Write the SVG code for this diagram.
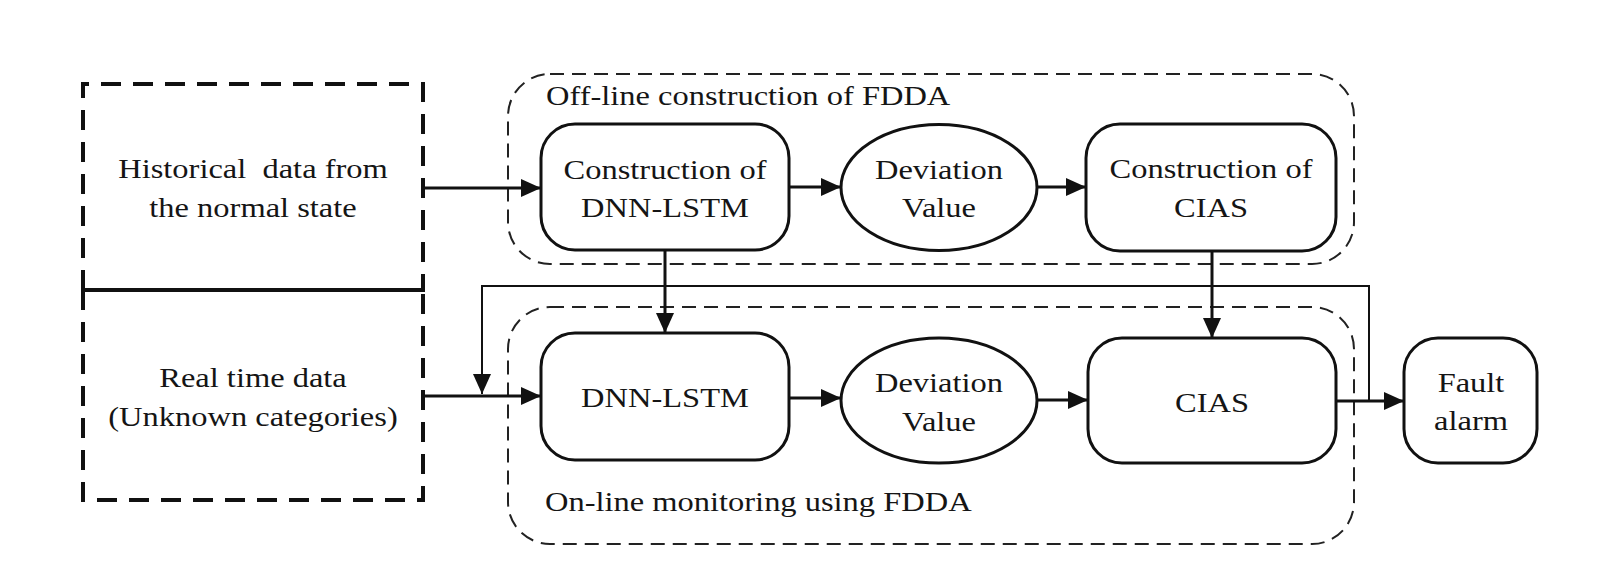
<svg xmlns="http://www.w3.org/2000/svg" width="1599" height="578" viewBox="0 0 1599 578">
<style>
.lbl{font-family:"Liberation Serif","Times New Roman",serif;font-size:28px;fill:#151515;}
.mid{text-anchor:middle;}
.node{fill:#fff;stroke:#111;stroke-width:3;}
.grp{fill:none;stroke:#222;stroke-width:2;stroke-dasharray:14 8;}
.src{fill:none;stroke:#111;stroke-width:4;stroke-dasharray:20 12;}
.con{fill:none;stroke:#111;stroke-width:3;}
.fb{fill:none;stroke:#111;stroke-width:2;}
</style>
<defs>
<marker id="ah" markerUnits="userSpaceOnUse" markerWidth="22" markerHeight="20" refX="20" refY="9" orient="auto">
<path d="M0,0 L20,9 L0,18 Z" fill="#111"/>
</marker>
</defs>
<rect width="1599" height="578" fill="#fff"/>

<g id="offline-group">
<rect class="grp" x="508" y="74" width="846" height="190" rx="42"/>
<text class="lbl" transform="translate(546,105) scale(1.16,1)">Off-line construction of FDDA</text>
</g>
<g id="online-group">
<rect class="grp" x="508" y="307" width="846" height="237" rx="42"/>
<text class="lbl" transform="translate(545,511) scale(1.16,1)">On-line monitoring using FDDA</text>
</g>

<g id="historical">
<path class="src" d="M83,290 V84 H423 V290"/>
<line x1="81" y1="290" x2="425" y2="290" stroke="#111" stroke-width="4"/>
<text class="lbl mid" style="white-space:pre" transform="translate(253,178) scale(1.16,1)">Historical  data from</text>
<text class="lbl mid" transform="translate(253,217) scale(1.16,1)">the normal state</text>
</g>
<g id="realtime">
<path class="src" d="M83,290 V500 H423 V290"/>
<text class="lbl mid" transform="translate(253,387) scale(1.16,1)">Real time data</text>
<text class="lbl mid" transform="translate(253,426) scale(1.16,1)">(Unknown categories)</text>
</g>

<g id="connectors">
<path class="con" d="M423,188 H541" marker-end="url(#ah)"/>
<path class="con" d="M789,187 H841" marker-end="url(#ah)"/>
<path class="con" d="M1037,187 H1086" marker-end="url(#ah)"/>
<path class="con" d="M665,250 V333" marker-end="url(#ah)"/>
<path class="con" d="M1212,251 V338" marker-end="url(#ah)"/>
<path class="con" d="M423,396 H541" marker-end="url(#ah)"/>
<path class="con" d="M789,398 H841" marker-end="url(#ah)"/>
<path class="con" d="M1037,400 H1088" marker-end="url(#ah)"/>
<path class="con" d="M1336,401 H1404" marker-end="url(#ah)"/>
<path class="fb" d="M1369,401 V286 H482 V394" marker-end="url(#ah)"/>
</g>

<g id="construct-dnn">
<rect class="node" x="541" y="124" width="248" height="126" rx="34"/>
<text class="lbl mid" transform="translate(665,179) scale(1.16,1)">Construction of</text>
<text class="lbl mid" transform="translate(665,217) scale(1.16,1)">DNN-LSTM</text>
</g>
<g id="deviation-offline">
<ellipse class="node" cx="939" cy="187.5" rx="98" ry="63"/>
<text class="lbl mid" transform="translate(939,179) scale(1.16,1)">Deviation</text>
<text class="lbl mid" transform="translate(939,217) scale(1.16,1)">Value</text>
</g>
<g id="construct-cias">
<rect class="node" x="1086" y="124" width="250" height="127" rx="34"/>
<text class="lbl mid" transform="translate(1211,178) scale(1.16,1)">Construction of</text>
<text class="lbl mid" transform="translate(1211,217) scale(1.16,1)">CIAS</text>
</g>
<g id="dnn-lstm">
<rect class="node" x="541" y="333" width="248" height="127" rx="34"/>
<text class="lbl mid" transform="translate(665,407) scale(1.16,1)">DNN-LSTM</text>
</g>
<g id="deviation-online">
<ellipse class="node" cx="939" cy="400.5" rx="98" ry="62.5"/>
<text class="lbl mid" transform="translate(939,392) scale(1.16,1)">Deviation</text>
<text class="lbl mid" transform="translate(939,431) scale(1.16,1)">Value</text>
</g>
<g id="cias">
<rect class="node" x="1088" y="338" width="248" height="125" rx="34"/>
<text class="lbl mid" transform="translate(1212,412) scale(1.16,1)">CIAS</text>
</g>
<g id="fault-alarm">
<rect class="node" x="1404" y="338" width="133" height="125" rx="34"/>
<text class="lbl mid" transform="translate(1471,392) scale(1.16,1)">Fault</text>
<text class="lbl mid" transform="translate(1471,430) scale(1.16,1)">alarm</text>
</g>
</svg>
